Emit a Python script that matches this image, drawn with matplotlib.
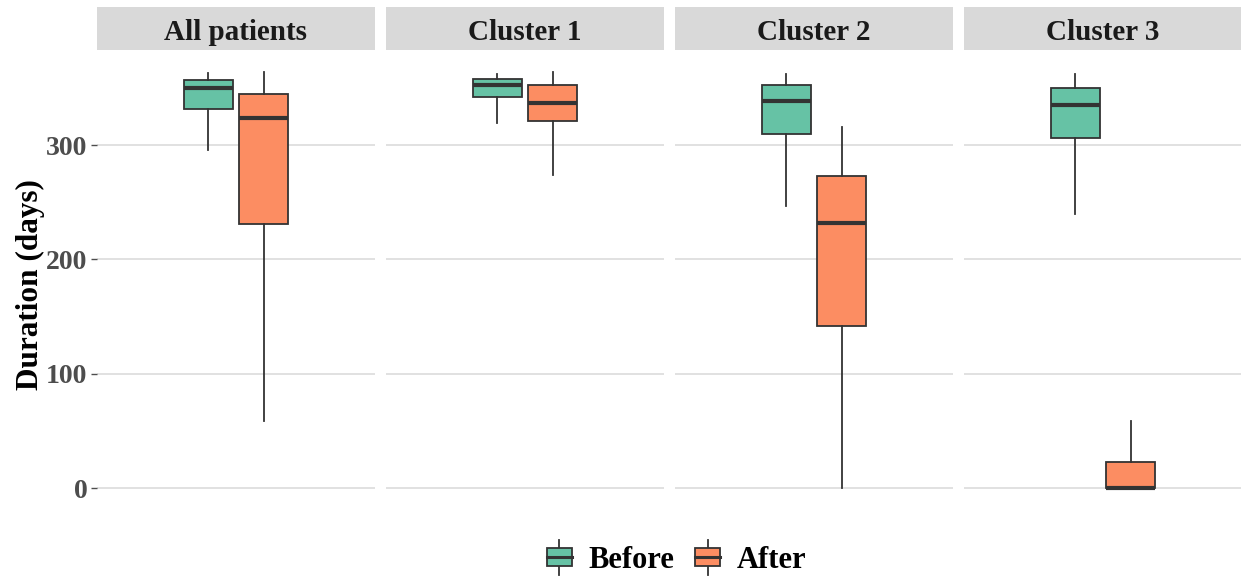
import matplotlib
matplotlib.use("Agg")
import matplotlib.pyplot as plt
from matplotlib.patches import Rectangle
from matplotlib.lines import Line2D
from matplotlib.legend_handler import HandlerBase

plt.rcParams['font.family'] = ['Liberation Serif', 'DejaVu Serif']
plt.rcParams['font.weight'] = 'bold'
plt.rcParams['axes.labelweight'] = 'bold'

# data (days)
panels = ["All patients", "Cluster 1", "Cluster 2", "Cluster 3"]
groups = ["Before", "After"]
colors = ["#66C2A5", "#FC8D62"]

before_whislo = [296, 319, 247, 240]
before_q1 = [332, 342, 310, 306]
before_med = [350, 353, 339, 335]
before_q3 = [357, 358, 353, 350]
before_whishi = [363, 362, 362, 362]

after_whislo = [59, 274, 0, 0]
after_q1 = [231, 321, 142, 0]
after_med = [324, 337, 232, 0]
after_q3 = [345, 353, 273, 23]
after_whishi = [364, 364, 316, 59]

edge = "#333333"
grid_c = "#DCDCDC"
tick_c = "#4D4D4D"


def stats(i):
    return [
        dict(whislo=before_whislo[i], q1=before_q1[i], med=before_med[i],
             q3=before_q3[i], whishi=before_whishi[i], fliers=[]),
        dict(whislo=after_whislo[i], q1=after_q1[i], med=after_med[i],
             q3=after_q3[i], whishi=after_whishi[i], fliers=[]),
    ]


fig = plt.figure(figsize=(12.41, 5.8), dpi=100)
W, H = 1241, 580
left, width, gap = 97, 278, 11
bottom_px, top_px = 509, 50
ah = bottom_px - top_px

axes = []
for i, name in enumerate(panels):
    x0 = left + i * (width + gap)
    ax = fig.add_axes([x0 / W, 1 - bottom_px / H, width / W, ah / H])
    axes.append(ax)
    bp = ax.bxp(stats(i), positions=[0.88, 1.12], widths=0.21, patch_artist=True,
                showcaps=False, showfliers=False,
                boxprops=dict(edgecolor=edge, linewidth=1.3),
                whiskerprops=dict(color=edge, linewidth=1.3),
                medianprops=dict(color=edge, linewidth=3, solid_capstyle='butt'))
    for patch, c in zip(bp['boxes'], colors):
        patch.set_facecolor(c)
    ax.set_xlim(0.4, 1.6)
    ax.set_ylim(-18.25, 383.25)
    ax.set_yticks([0, 100, 200, 300])
    ax.yaxis.grid(True, color=grid_c, linewidth=1.2)
    ax.set_axisbelow(True)
    ax.set_xticks([])
    for s in ax.spines.values():
        s.set_visible(False)
    if i == 0:
        ax.tick_params(axis='y', length=4, color=tick_c, labelcolor=tick_c,
                       labelsize=20, width=1, pad=3)
        ax.set_ylabel("Duration (days)", fontsize=22.5, color='black')
        ax.yaxis.set_label_coords((45 - x0) / width, (bottom_px - 285) / ah)
    else:
        ax.tick_params(axis='y', length=0, labelleft=False)
    # strip header
    ax.add_patch(Rectangle((0, 1.0), 1, 43 / ah, transform=ax.transAxes,
                           facecolor="#D9D9D9", edgecolor='none', clip_on=False))
    ax.text(0.5, 1.0 + 10 / ah, name, transform=ax.transAxes,
            ha='center', va='baseline', fontsize=21, color='#1A1A1A')


class BoxKey(HandlerBase):
    def __init__(self, color):
        super().__init__()
        self.color = color

    def create_artists(self, legend, orig_handle, xdescent, ydescent,
                       width, height, fontsize, trans):
        cx = width / 2 - xdescent
        r = Rectangle((-xdescent + 2, -ydescent + height * 0.1), width - 4, height * 0.8,
                      facecolor=self.color, edgecolor=edge, linewidth=1.3, transform=trans)
        m = Line2D([-xdescent + 2, width - xdescent - 2], [height / 2 - ydescent] * 2,
                   color=edge, linewidth=2.2, transform=trans)
        w1 = Line2D([cx, cx], [-ydescent - height * 0.25, -ydescent + height * 0.1],
                    color=edge, linewidth=1.3, transform=trans)
        w2 = Line2D([cx, cx], [-ydescent + height * 0.9, -ydescent + height * 1.25],
                    color=edge, linewidth=1.3, transform=trans)
        return [w1, w2, r, m]


h1 = Rectangle((0, 0), 1, 1)
h2 = Rectangle((0, 0), 1, 1)
fig.legend([h1, h2], groups, loc='center', bbox_to_anchor=(675 / W, 1 - 560 / H),
           ncol=2, frameon=False, fontsize=22, handlelength=1.0, handleheight=0.8,
           columnspacing=0.6, handletextpad=0.45,
           handler_map={h1: BoxKey(colors[0]), h2: BoxKey(colors[1])})

fig.savefig("out.png", dpi=100)
